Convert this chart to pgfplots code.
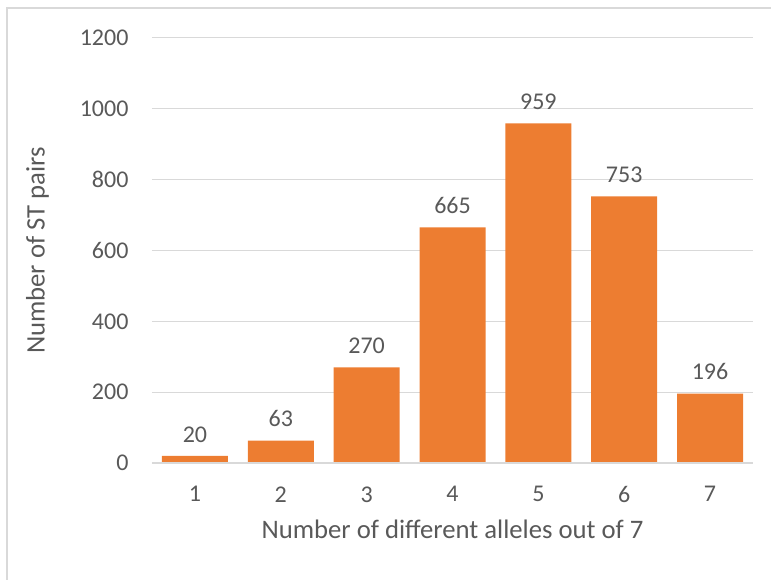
\documentclass[border=0pt]{standalone}
\usepackage{pgfplots}
\pgfplotsset{compat=1.18}
\usepackage{fontspec}
\setmainfont{Carlito}
\definecolor{barorange}{HTML}{ED7D31}
\definecolor{txtgray}{HTML}{595959}
\definecolor{gridgray}{HTML}{D9D9D9}
\begin{document}
\begin{tikzpicture}[x=1pt,y=1pt]
\useasboundingbox (0,0) rectangle (771,579);
\draw[gridgray, line width=1.5pt] (7,-5) -- (7,571) -- (780,571);
\begin{axis}[
  at={(152pt,116pt)}, anchor=south west,
  scale only axis, width=601pt, height=425pt,
  xmin=0.5, xmax=7.5, ymin=0, ymax=1200,
  ybar, bar width=66pt, bar shift=0pt,
  xtick={1,...,7}, ytick={0,200,...,1200},
  axis line style={draw=none},
  ymajorgrids, grid style={gridgray, line width=1pt},
  major tick length=0pt,
  tick label style={font=\fontsize{24}{29}\selectfont, text=txtgray},
  /pgf/number format/assume math mode=true,
  /pgf/number format/1000 sep={},
  yticklabel style={xshift=-20pt},
  xticklabel style={yshift=-20pt},
  xlabel={Number of different alleles out of 7},
  ylabel={Number of ST pairs},
  label style={font=\fontsize{26.7}{32}\selectfont, text=txtgray},
  xlabel style={yshift=-10pt},
  ylabel style={yshift=24pt},
  nodes near coords,
  nodes near coords style={font=\fontsize{24}{29}\selectfont, text=txtgray, anchor=south, yshift=10pt},
  clip=false,
]
\addplot[fill=barorange, draw=none] coordinates {(1,20) (2,63) (3,270) (4,665) (5,959) (6,753) (7,196)};
\draw[gridgray, line width=1.5pt] (axis cs:0.5,0) -- (axis cs:7.5,0);
\end{axis}
\end{tikzpicture}
\end{document}
